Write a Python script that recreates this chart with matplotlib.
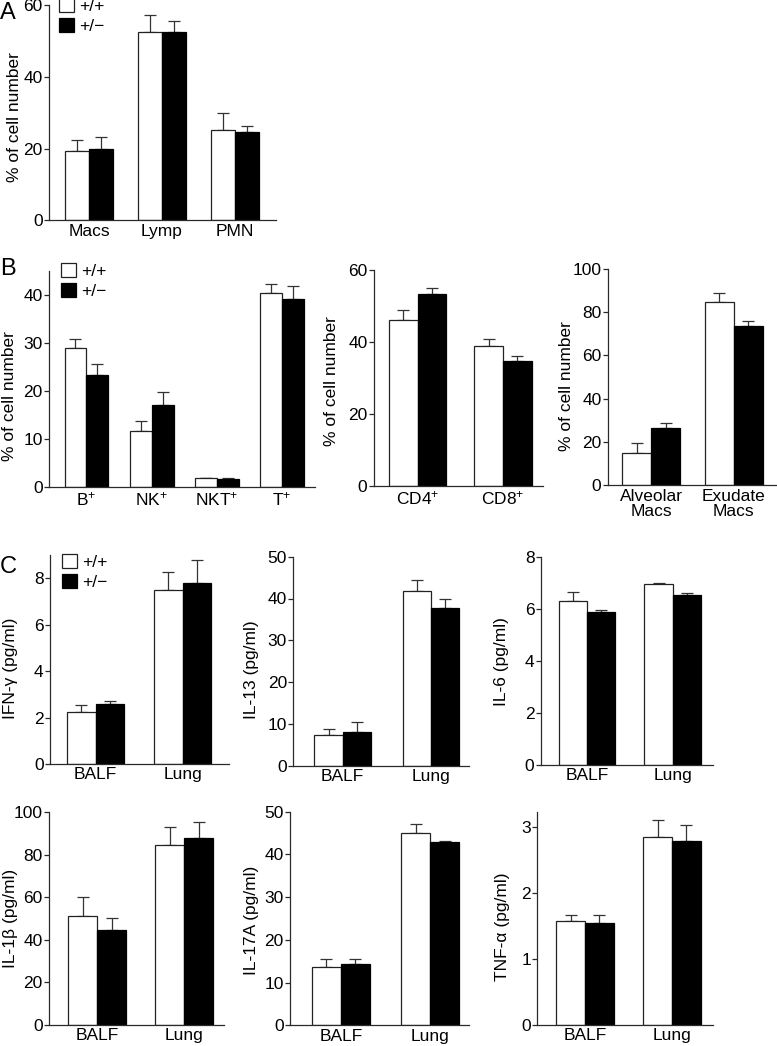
import matplotlib
matplotlib.use("Agg")
import matplotlib.pyplot as plt
import numpy as np

plt.rcParams['font.family'] = ['Liberation Sans', 'DejaVu Sans']
plt.rcParams['mathtext.fontset'] = 'custom'
plt.rcParams['mathtext.rm'] = 'Liberation Sans'
plt.rcParams['mathtext.it'] = 'Liberation Sans:italic'
plt.rcParams['mathtext.bf'] = 'Liberation Sans:bold'

W, H = 777, 1046

genotypes = ['+/+', '+/\u2212']

# ---- Panel A ----
a_cats = ['Macs', 'Lymp', 'PMN']
a_wt = [19.4, 52.4, 25.1]
a_wt_err = [3.0, 4.8, 4.8]
a_het = [19.9, 52.6, 24.6]
a_het_err = [3.3, 2.9, 1.7]
a_ticks = [0, 20, 40, 60]

# ---- Panel B (lymphocyte subsets) ----
b1_cats = ['B$^{+}$', 'NK$^{+}$', 'NKT$^{+}$', 'T$^{+}$']
b1_wt = [29.1, 11.7, 1.9, 40.5]
b1_wt_err = [1.7, 2.1, 0.1, 1.8]
b1_het = [23.5, 17.1, 1.7, 39.3]
b1_het_err = [2.2, 2.8, 0.15, 2.7]
b1_ticks = [0, 10, 20, 30, 40]

b2_cats = ['CD4$^{+}$', 'CD8$^{+}$']
b2_wt = [46.1, 38.9]
b2_wt_err = [2.8, 1.8]
b2_het = [53.2, 34.7]
b2_het_err = [1.9, 1.3]
b2_ticks = [0, 20, 40, 60]

b3_cats = ['Alveolar\nMacs', 'Exudate\nMacs']
b3_wt = [15.0, 84.5]
b3_wt_err = [4.7, 4.3]
b3_het = [26.3, 73.5]
b3_het_err = [2.5, 2.5]
b3_ticks = [0, 20, 40, 60, 80, 100]

# ---- Panel C (cytokines) ----
c_cats = ['BALF', 'Lung']

ifng_wt = [2.23, 7.49]
ifng_wt_err = [0.30, 0.80]
ifng_het = [2.57, 7.81]
ifng_het_err = [0.16, 0.99]
ifng_ticks = [0, 2, 4, 6, 8]

il13_wt = [7.4, 41.9]
il13_wt_err = [1.3, 2.6]
il13_het = [8.0, 37.7]
il13_het_err = [2.45, 2.3]
il13_ticks = [0, 10, 20, 30, 40, 50]

il6_wt = [6.30, 6.95]
il6_wt_err = [0.34, 0.05]
il6_het = [5.86, 6.54]
il6_het_err = [0.08, 0.05]
il6_ticks = [0, 2, 4, 6, 8]

il1b_wt = [51.0, 84.5]
il1b_wt_err = [8.9, 8.6]
il1b_het = [44.7, 87.8]
il1b_het_err = [5.7, 7.6]
il1b_ticks = [0, 20, 40, 60, 80, 100]

il17_wt = [13.65, 44.96]
il17_wt_err = [1.95, 2.24]
il17_het = [14.35, 42.9]
il17_het_err = [1.25, 0.2]
il17_ticks = [0, 10, 20, 30, 40, 50]

tnf_wt = [1.58, 2.86]
tnf_wt_err = [0.086, 0.26]
tnf_het = [1.55, 2.80]
tnf_het_err = [0.12, 0.24]
tnf_ticks = [0, 1, 2, 3]

fig = plt.figure(figsize=(W / 100, H / 100), dpi=100)

AX_COLOR = '#2a2a2a'
FS = 12.5


def make_panel(px, cats, wt, wt_err, het, het_err, ticks, ymax, xmargins,
               ylabel, label_px, bw=0.33, legend_px=None):
    x0, x1, ytop, ybot = px
    ax = fig.add_axes([x0 / W, 1 - ybot / H, (x1 - x0) / W, (ybot - ytop) / H])
    x = np.arange(len(cats))
    zeros = np.zeros(len(cats))
    ax.errorbar(x - bw / 2, wt, yerr=[zeros, wt_err], fmt='none', ecolor='#333333',
                elinewidth=0.9, capsize=4, capthick=0.9, zorder=1)
    ax.errorbar(x + bw / 2, het, yerr=[zeros, het_err], fmt='none', ecolor='#333333',
                elinewidth=0.9, capsize=4, capthick=0.9, zorder=1)
    b_wt = ax.bar(x - bw / 2, wt, bw, color='white', edgecolor='#222222',
                  linewidth=0.9, zorder=2)
    b_het = ax.bar(x + bw / 2, het, bw, color='black', edgecolor='black',
                   linewidth=0.9, zorder=2)
    ax.set_xlim(-xmargins[0], len(cats) - 1 + xmargins[1])
    ax.set_ylim(0, ymax)
    ax.set_yticks(ticks)
    ax.set_yticklabels([str(t) for t in ticks])
    ax.set_xticks(x)
    ax.set_xticklabels(cats, linespacing=1.05)
    for s in ['top', 'right']:
        ax.spines[s].set_visible(False)
    for s in ['left', 'bottom']:
        ax.spines[s].set_color(AX_COLOR)
        ax.spines[s].set_linewidth(0.9)
    ax.tick_params(axis='y', direction='out', length=3.5, width=0.9, color=AX_COLOR,
                   pad=1, labelsize=FS)
    ax.tick_params(axis='x', length=0, pad=2.5, labelsize=FS)
    ax.set_ylabel(ylabel, fontsize=FS)
    lx, ly = label_px
    ax.yaxis.set_label_coords((lx - x0) / (x1 - x0), (ybot - ly) / (ybot - ytop))
    if legend_px is not None:
        gx, gy = legend_px
        ax.legend([b_wt, b_het], genotypes, loc='upper left',
                  bbox_to_anchor=(gx / W, 1 - gy / H), bbox_transform=fig.transFigure,
                  frameon=False, fontsize=FS, handlelength=0.88, handleheight=0.88,
                  handletextpad=0.3, labelspacing=0.2, borderpad=0, borderaxespad=0)
    return ax


# Panel A
make_panel((49, 276, 5, 220.3), a_cats, a_wt, a_wt_err, a_het, a_het_err, a_ticks, 60,
           (0.548, 0.56), '% of cell number', (22, 117), bw=0.333, legend_px=(59, -2))

# Panel B
make_panel((49, 315, 271.3, 487.3), b1_cats, b1_wt, b1_wt_err, b1_het, b1_het_err,
           b1_ticks, 45, (0.575, 0.506), '% of cell number', (17, 396), bw=0.337,
           legend_px=(61, 263))
make_panel((373.7, 543, 270, 486), b2_cats, b2_wt, b2_wt_err, b2_het, b2_het_err,
           b2_ticks, 60, (0.516, 0.469), '% of cell number', (339, 381), bw=0.336)
make_panel((607.7, 776, 268.7, 485.3), b3_cats, b3_wt, b3_wt_err, b3_het, b3_het_err,
           b3_ticks, 100, (0.524, 0.51), '% of cell number', (574, 386), bw=0.351)

# Panel C, row 1
make_panel((50, 229.3, 555.2, 764), c_cats, ifng_wt, ifng_wt_err, ifng_het, ifng_het_err,
           ifng_ticks, 9, (0.525, 0.536), 'IFN-\u03b3 (pg/ml)', (18, 668), bw=0.328,
           legend_px=(62, 554))
make_panel((293.3, 469.3, 556.7, 765.7), c_cats, il13_wt, il13_wt_err, il13_het, il13_het_err,
           il13_ticks, 50, (0.56, 0.434), 'IL-13 (pg/ml)', (259, 670), bw=0.32)
make_panel((540.7, 713.3, 556.7, 765), c_cats, il6_wt, il6_wt_err, il6_het, il6_het_err,
           il6_ticks, 8, (0.546, 0.476), 'IL-6 (pg/ml)', (509, 662), bw=0.33)

# Panel C, row 2
make_panel((49, 224, 812, 1025), c_cats, il1b_wt, il1b_wt_err, il1b_het, il1b_het_err,
           il1b_ticks, 100, (0.555, 0.456), 'IL-1\u03b2 (pg/ml)', (18, 918), bw=0.333)
make_panel((290, 469.3, 811.7, 1025.3), c_cats, il17_wt, il17_wt_err, il17_het, il17_het_err,
           il17_ticks, 50, (0.571, 0.437), 'IL-17A (pg/ml)', (259, 920), bw=0.325)
make_panel((537.3, 713.3, 811.7, 1024.7), c_cats, tnf_wt, tnf_wt_err, tnf_het, tnf_het_err,
           tnf_ticks, 3.24, (0.548, 0.475), 'TNF-\u03b1 (pg/ml)', (510, 927), bw=0.33)

# Panel letters
for letter, (lx, ly) in {'A': (0, 19), 'B': (0, 275), 'C': (0, 573)}.items():
    fig.text(lx / W, 1 - ly / H, letter, fontsize=17, ha='left', va='baseline')

fig.savefig('out.png', dpi=100)
